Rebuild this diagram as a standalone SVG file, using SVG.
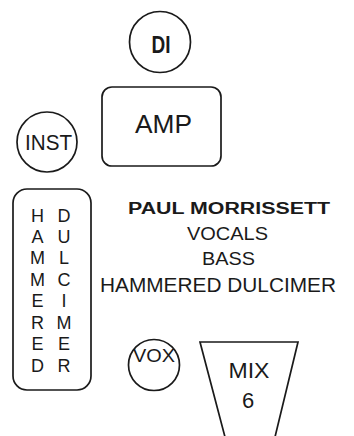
<svg xmlns="http://www.w3.org/2000/svg" width="354" height="436" viewBox="0 0 354 436">
<style>
.s{fill:none;stroke:#1a1a1a;stroke-width:1.7}
text{font-family:"Liberation Sans",Arial,sans-serif;fill:#1a1a1a;text-anchor:middle}
.v{font-size:18px}
</style>
<rect width="354" height="436" fill="#fff"/>
<g id="di"><circle class="s" cx="160" cy="42" r="30.5"/><text x="161" y="52.5" font-size="23" font-weight="bold" textLength="19" lengthAdjust="spacingAndGlyphs">DI</text></g>
<g id="amp"><rect class="s" x="102" y="87" width="119" height="79" rx="10"/><text x="163.5" y="133" font-size="25" textLength="57" lengthAdjust="spacingAndGlyphs">AMP</text></g>
<g id="inst"><circle class="s" cx="47" cy="142" r="30"/><text x="48.5" y="150" font-size="22" textLength="47" lengthAdjust="spacingAndGlyphs">INST</text></g>
<g id="dulcimer"><rect class="s" x="13" y="189" width="78" height="201" rx="14"/>
<text class="v" x="37.5" y="221.5">H</text><text class="v" x="37.5" y="243">A</text><text class="v" x="37.5" y="264.4">M</text><text class="v" x="37.5" y="285.8">M</text><text class="v" x="37.5" y="307.2">E</text><text class="v" x="37.5" y="328.6">R</text><text class="v" x="37.5" y="350">E</text><text class="v" x="37.5" y="371.5">D</text>
<text class="v" x="64" y="221.5">D</text><text class="v" x="64" y="243">U</text><text class="v" x="64" y="264.4">L</text><text class="v" x="64" y="285.8">C</text><text class="v" x="64" y="307.2">I</text><text class="v" x="64" y="328.6">M</text><text class="v" x="64" y="350">E</text><text class="v" x="64" y="371.5">R</text>
</g>
<g id="label">
<text x="229" y="213.5" font-size="16" font-weight="bold" textLength="202" lengthAdjust="spacingAndGlyphs">PAUL MORRISSETT</text>
<text x="227.5" y="240" font-size="19" textLength="81" lengthAdjust="spacingAndGlyphs">VOCALS</text>
<text x="228.5" y="265" font-size="19" textLength="53" lengthAdjust="spacingAndGlyphs">BASS</text>
<text x="218" y="292" font-size="20" textLength="236" lengthAdjust="spacingAndGlyphs">HAMMERED DULCIMER</text>
</g>
<g id="vox"><circle class="s" cx="154" cy="365" r="25.5"/><text x="154" y="362" font-size="18" textLength="42" lengthAdjust="spacingAndGlyphs">VOX</text></g>
<g id="mix"><polyline class="s" points="225,437 200,342 298,342 275,437"/><text x="249" y="378" font-size="22" textLength="41" lengthAdjust="spacingAndGlyphs">MIX</text><text x="248" y="408" font-size="22">6</text></g>
</svg>
